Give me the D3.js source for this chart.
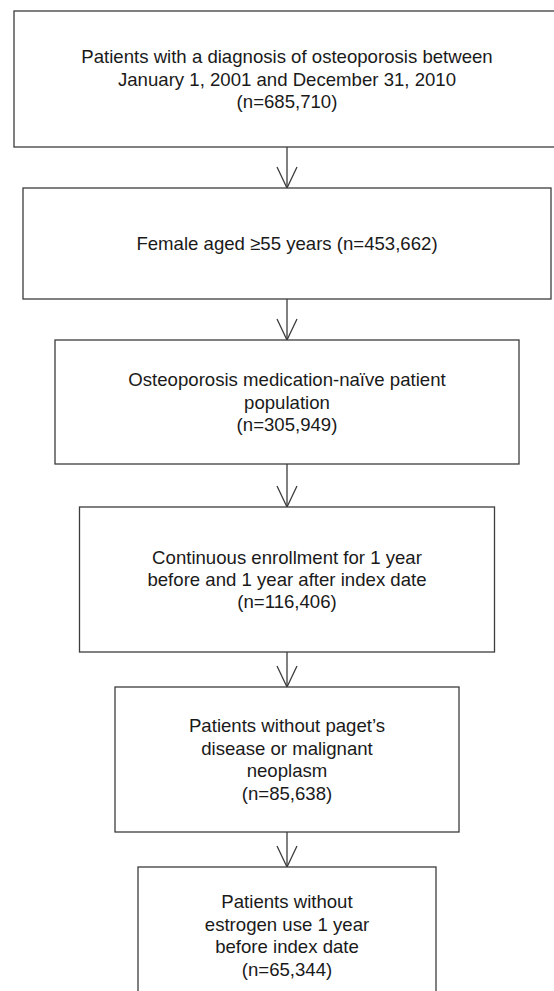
<!DOCTYPE html>
<html>
<head>
<meta charset="utf-8">
<script src="https://cdn.jsdelivr.net/npm/d3@7"></script>
<style>
  body { margin: 0; background: #fff; }
  #chart { width: 554px; height: 991px; overflow: hidden; }
</style>
</head>
<body>
<div id="chart"></div>
<script>
// Flow steps (text lines) and patient counts
const stepLines = [
    ["Patients with a diagnosis of osteoporosis between", "January 1, 2001 and December 31, 2010"],
    ["Female aged \u226555 years"],
    ["Osteoporosis medication-na\u00efve patient", "population"],
    ["Continuous enrollment for 1 year", "before and 1 year after index date"],
    ["Patients without paget\u2019s", "disease or malignant", "neoplasm"],
    ["Patients without", "estrogen use 1 year", "before index date"]
];
const counts = [685710, 453662, 305949, 116406, 85638, 65344];
// count printed on same line as the label?
const countInline = [false, true, false, false, false, false];

// Box layout (pixels)
const width = 554, height = 991;
const cx = 287;
const boxTop = [11, 188, 340, 507, 687, 867];
const boxBottom = [147, 299, 464, 652, 832, 1004];
const boxWidth = [546, 528, 464, 415, 344, 298];

const fontSize = 18.6, lineHeight = 22.4;
const fmt = d3.format(",");

const svg = d3.select("#chart")
    .append("svg")
    .attr("width", width)
    .attr("height", height);

const steps = stepLines.map((lines, i) => {
    const countText = "(n=" + fmt(counts[i]) + ")";
    let all = lines.slice();
    if (countInline[i]) all[all.length - 1] += " " + countText;
    else all.push(countText);
    return {
        lines: all,
        x0: cx - boxWidth[i] / 2,
        x1: cx + boxWidth[i] / 2,
        y0: boxTop[i],
        y1: boxBottom[i]
    };
});

// arrows between boxes
const arrows = d3.pairs(steps);
const arrowG = svg.append("g")
    .attr("stroke", "#3c3c3c")
    .attr("stroke-width", 1.3)
    .attr("fill", "none");

arrowG.selectAll("line")
    .data(arrows)
    .join("line")
    .attr("x1", cx)
    .attr("x2", cx)
    .attr("y1", d => d[0].y1)
    .attr("y2", d => d[1].y0);

arrowG.selectAll("path")
    .data(arrows)
    .join("path")
    .attr("d", d => {
        const tip = d[1].y0;
        return `M${cx - 10},${tip - 21}L${cx},${tip}L${cx + 10},${tip - 21}`;
    });

// boxes
const node = svg.append("g")
    .selectAll("g")
    .data(steps)
    .join("g");

node.append("rect")
    .attr("x", d => d.x0)
    .attr("y", d => d.y0)
    .attr("width", d => d.x1 - d.x0)
    .attr("height", d => d.y1 - d.y0)
    .attr("fill", "#fff")
    .attr("stroke", "#3c3c3c")
    .attr("stroke-width", 1.3);

node.append("text")
    .attr("font-family", "'Liberation Sans', Arial, sans-serif")
    .attr("font-size", fontSize)
    .attr("fill", "#1a1a1a")
    .attr("text-anchor", "middle")
    .each(function (d) {
        const mid = (d.y0 + d.y1) / 2;
        const n = d.lines.length;
        d3.select(this).selectAll("tspan")
            .data(d.lines)
            .join("tspan")
            .attr("x", cx)
            .attr("y", (l, j) => mid + (j - (n - 1) / 2) * lineHeight)
            .attr("dy", "0.35em")
            .text(l => l);
    });
</script>
</body>
</html>
